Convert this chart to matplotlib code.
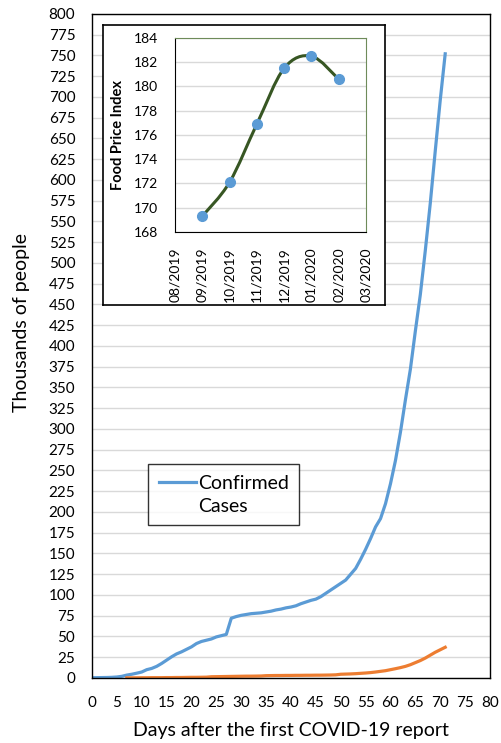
"""COVID-19 cases vs days, with a food price index inset."""

import matplotlib
matplotlib.use("Agg")
import matplotlib.pyplot as plt
from matplotlib.lines import Line2D
from matplotlib.path import Path
from matplotlib.patches import PathPatch
import numpy as np

plt.rcParams["font.family"] = ["Lato", "DejaVu Sans"]

BLUE = "#5B9BD5"
ORANGE = "#ED7D31"
GREEN = "#375623"
GRID = "#D9D9D9"

# main chart, thousands of people per day after the first report
days_confirmed = list(range(0, 72))
confirmed = [
    0.3, 0.4, 0.5, 0.6, 0.8, 1.2, 2.0, 3.5, 4.5, 5.8,
    7.2, 10.0, 11.5, 14.0, 17.5, 21.5, 25.5, 29.0, 31.5, 34.5,
    37.5, 41.5, 44.0, 45.5, 47.0, 49.5, 51.0, 52.5, 72.0, 74.0,
    75.5, 76.5, 77.5, 78.0, 78.5, 79.5, 80.5, 82.0, 83.0, 84.5,
    85.5, 87.0, 89.5, 91.5, 93.5, 95.0, 98.0, 102.0, 106.0, 110.0,
    114.0, 118.0, 125.0, 132.0, 143.0, 155.0, 168.0, 182.0, 192.0, 210.0,
    234.0, 262.0, 296.0, 335.0, 372.0, 418.0, 462.0, 515.0, 572.0, 635.0,
    696.0, 752.0,
]

days_second = list(range(7, 72))
second = [
    0.2, 0.2, 0.2, 0.3, 0.3, 0.4, 0.4, 0.4, 0.5, 0.5,
    0.6, 0.6, 0.7, 0.8, 0.8, 0.9, 1.0, 1.5, 1.6, 1.7,
    1.8, 1.9, 2.0, 2.1, 2.2, 2.2, 2.3, 2.4, 2.8, 2.9,
    3.0, 3.0, 3.1, 3.1, 3.2, 3.2, 3.3, 3.3, 3.4, 3.4,
    3.5, 3.6, 3.8, 4.5, 4.7, 4.9, 5.2, 5.6, 6.0, 6.5,
    7.2, 8.0, 8.8, 10.0, 11.2, 12.5, 14.0, 16.0, 18.5, 21.0,
    24.0, 27.5, 31.0, 34.0, 37.0,
]

# inset chart
month_labels = ["08/2019", "09/2019", "10/2019", "11/2019",
                "12/2019", "01/2020", "02/2020", "03/2020"]
fpi_months = [1, 2, 3, 4, 5, 6]
fpi = [169.3, 172.1, 176.9, 181.5, 182.5, 180.6]


def smooth_path(xs, ys):
    """Excel-like smoothed line: cubic Bezier segments through the points."""
    pts = np.column_stack([xs, ys]).astype(float)
    n = len(pts)
    verts = [pts[0]]
    codes = [Path.MOVETO]
    for i in range(n - 1):
        p_prev = pts[max(i - 1, 0)]
        p0, p1 = pts[i], pts[i + 1]
        p_next = pts[min(i + 2, n - 1)]
        c1 = p0 + (p1 - p_prev) / 6.0
        c2 = p1 - (p_next - p0) / 6.0
        verts += [c1, c2, p1]
        codes += [Path.CURVE4] * 3
    return Path(verts, codes)


fig = plt.figure(figsize=(5.01, 7.43), dpi=100)
ax = fig.add_axes([0.1836, 0.0875, 0.7944, 0.8937])

ax.plot(days_confirmed, confirmed, color=BLUE, linewidth=2.3, label="Confirmed")
ax.plot(days_second, second, color=ORANGE, linewidth=2.3)
ax.set_xlim(0, 80)
ax.set_ylim(0, 800)
ax.set_xticks(np.arange(0, 81, 5))
ax.set_yticks(np.arange(0, 801, 25))
ax.tick_params(length=0, labelsize=11)
ax.tick_params(axis="x", pad=13)
ax.tick_params(axis="y", pad=12)
ax.grid(axis="y", color=GRID, linewidth=1)
ax.set_axisbelow(True)
for s in ax.spines.values():
    s.set_color("black")
    s.set_linewidth(1.0)
ax.set_xlabel("Days after the first COVID-19 report", fontsize=14)
ax.set_ylabel("Thousands of people", fontsize=14)
ax.yaxis.set_label_coords(-0.156, 0.535)
ax.xaxis.set_label_coords(0.5, -0.066)

handles = [Line2D([], [], color=BLUE, linewidth=2.3), Line2D([], [], color="none")]
leg = ax.legend(handles, ["Confirmed", "Cases"], loc="lower left",
                bbox_to_anchor=(0.141, 0.230), borderaxespad=0, fontsize=14,
                frameon=True, fancybox=False, edgecolor="black",
                handlelength=1.9, handletextpad=0.1, labelspacing=0.3,
                borderpad=0.55)
leg.get_frame().set_linewidth(1.0)

# inset frame (chart area)
box = fig.add_axes([0.2056, 0.5895, 0.5629, 0.3769])
box.set_xticks([])
box.set_yticks([])
box.set_facecolor("white")
for s in box.spines.values():
    s.set_color("black")
    s.set_linewidth(1.2)

ins = fig.add_axes([0.3493, 0.6878, 0.3812, 0.2611])
ins.add_patch(PathPatch(smooth_path(fpi_months, fpi), facecolor="none",
                        edgecolor=GREEN, linewidth=2.2, zorder=3))
ins.plot(fpi_months, fpi, linestyle="none", marker="o", markersize=7,
         color=BLUE, zorder=4)
ins.set_xlim(0, 7)
ins.set_ylim(168, 184)
ins.set_xticks(range(len(month_labels)))
ins.set_xticklabels(month_labels, rotation=90)
ins.set_yticks(np.arange(168, 185, 2))
ins.tick_params(length=0, labelsize=10)
ins.tick_params(axis="x", pad=11)
ins.tick_params(axis="y", pad=12)
ins.grid(axis="y", color=GRID, linewidth=1)
ins.set_axisbelow(True)
ins.spines["left"].set_color("black")
ins.spines["bottom"].set_color("black")
ins.spines["top"].set_color("#6E8B5A")
ins.spines["right"].set_color("#6E8B5A")
ins.set_ylabel("Food Price Index", fontsize=10.5, fontweight="bold")
ins.yaxis.set_label_coords(-0.26, 0.5)

fig.savefig("out.png", dpi=100)
